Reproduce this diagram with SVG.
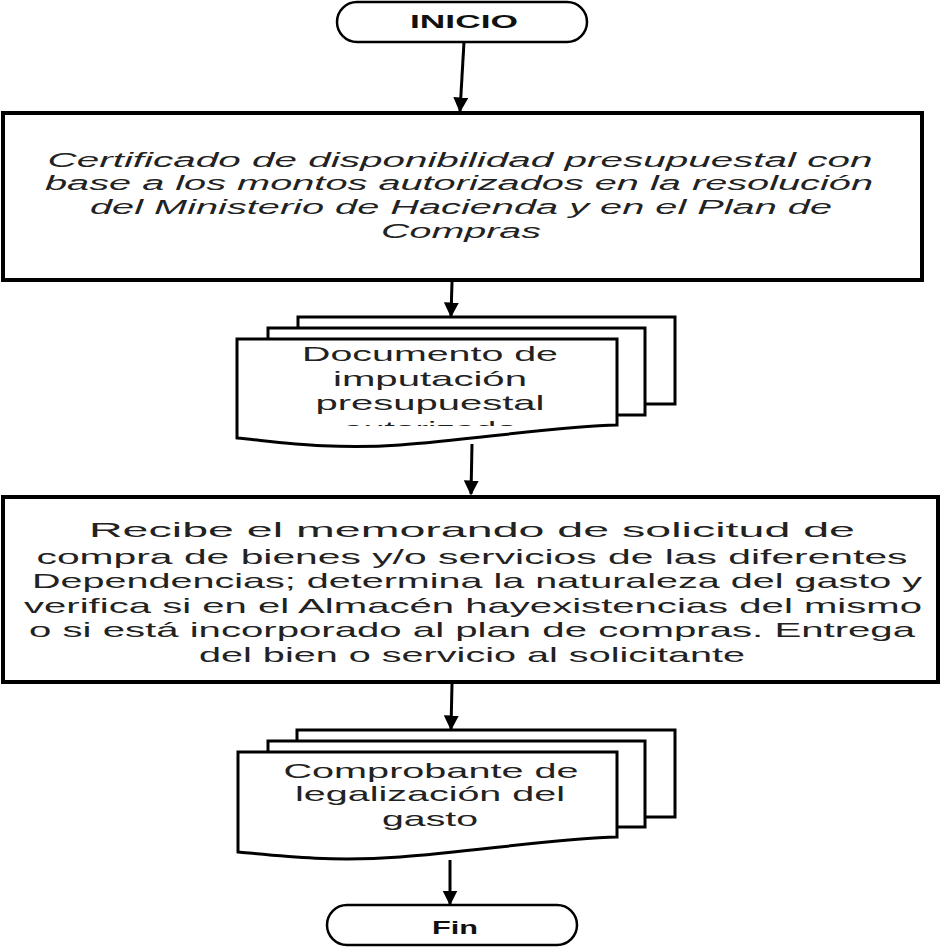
<svg xmlns="http://www.w3.org/2000/svg" width="942" height="948" viewBox="0 0 942 948">
<style>
.term{fill:#fff;stroke:#000;stroke-width:2.5}
.box{fill:#fff;stroke:#000;stroke-width:4}
.sheet{fill:#fff;stroke:#000;stroke-width:3}
.t{font-family:"Liberation Sans",Arial,sans-serif;fill:#222;text-anchor:middle}
.b{font-weight:bold;fill:#111}
.i{font-style:italic}
.conn{stroke:#000;stroke-width:3;fill:none}
</style>
<defs>
<marker id="ah" markerWidth="5" markerHeight="5" refX="4.5" refY="2.5" orient="auto" markerUnits="strokeWidth">
<path d="M0,0 L5,2.5 L0,5 Z" fill="#000"/>
</marker>
<clipPath id="doc1clip"><rect x="237" y="339" width="380" height="87"/></clipPath>
</defs>
<rect width="942" height="948" fill="#fff"/>

<g id="inicio">
<rect class="term" x="337" y="2" width="250" height="40" rx="20"/>
<text class="t b" x="464" y="28" font-size="18" textLength="108" lengthAdjust="spacingAndGlyphs">INICIO</text>
</g>

<g id="certificado">
<rect class="box" x="3" y="113" width="919" height="167"/>
<text class="t i" font-size="20" x="460" y="167" textLength="825" lengthAdjust="spacingAndGlyphs">Certificado  de disponibilidad presupuestal  con</text>
<text class="t i" font-size="20" x="459" y="190" textLength="828" lengthAdjust="spacingAndGlyphs">base a los montos autorizados en la resolución</text>
<text class="t i" font-size="20" x="461" y="214" textLength="742" lengthAdjust="spacingAndGlyphs">del Ministerio de Hacienda  y en el Plan de</text>
<text class="t i" font-size="20" x="461" y="238" textLength="160" lengthAdjust="spacingAndGlyphs">Compras</text>
</g>

<g id="documento-imputacion">
<rect class="sheet" x="298" y="317" width="377" height="87"/>
<rect class="sheet" x="268" y="328" width="377" height="87"/>
<path class="sheet" d="M237,339 L617,339 L617,425 C560,426 470,440 400,445 C330,450 280,442 237,438 Z"/>
<g clip-path="url(#doc1clip)">
<text class="t" font-size="21" x="430" y="361" textLength="256" lengthAdjust="spacingAndGlyphs">Documento de</text>
<text class="t" font-size="21" x="430" y="386" textLength="194" lengthAdjust="spacingAndGlyphs">imputación</text>
<text class="t" font-size="21" x="430" y="410" textLength="229" lengthAdjust="spacingAndGlyphs">presupuestal</text>
<text class="t" font-size="21" x="430" y="436" textLength="174" lengthAdjust="spacingAndGlyphs">autorizado</text>
</g>
</g>

<g id="recibe-memorando">
<rect class="box" x="3" y="497" width="935" height="185"/>
<text class="t" font-size="21" x="472" y="537" textLength="766" lengthAdjust="spacingAndGlyphs">Recibe el memorando de solicitud de</text>
<text class="t" font-size="21" x="472" y="564" textLength="871" lengthAdjust="spacingAndGlyphs">compra de bienes y/o servicios de las diferentes</text>
<text class="t" font-size="21" x="477" y="588" textLength="890" lengthAdjust="spacingAndGlyphs">Dependencias; determina la naturaleza del gasto y</text>
<text class="t" font-size="21" x="473" y="613" textLength="898" lengthAdjust="spacingAndGlyphs">verifica si en el Almacén hayexistencias del mismo</text>
<text class="t" font-size="21" x="472" y="637" textLength="886" lengthAdjust="spacingAndGlyphs">o si está incorporado al plan de compras.  Entrega</text>
<text class="t" font-size="21" x="472" y="662" textLength="546" lengthAdjust="spacingAndGlyphs">del bien o servicio al solicitante</text>
</g>

<g id="comprobante-legalizacion">
<rect class="sheet" x="297" y="730" width="378" height="87"/>
<rect class="sheet" x="268" y="741" width="377" height="86"/>
<path class="sheet" d="M238,752 L617,752 L617,837 C560,838 470,852 400,857 C330,862 280,856 238,852 Z"/>
<text class="t" font-size="21" x="431" y="778" textLength="295" lengthAdjust="spacingAndGlyphs">Comprobante de</text>
<text class="t" font-size="21" x="430" y="801" textLength="270" lengthAdjust="spacingAndGlyphs">legalización del</text>
<text class="t" font-size="21" x="430" y="826" textLength="96" lengthAdjust="spacingAndGlyphs">gasto</text>
</g>

<g id="fin">
<rect class="term" x="327" y="905" width="250" height="40" rx="20"/>
<text class="t b" x="455" y="934" font-size="19" textLength="46" lengthAdjust="spacingAndGlyphs">Fin</text>
</g>

<g id="connectors">
<line class="conn" x1="464" y1="42" x2="460" y2="111" marker-end="url(#ah)"/>
<line class="conn" x1="452" y1="282" x2="451" y2="316" marker-end="url(#ah)"/>
<line class="conn" x1="472" y1="444" x2="471" y2="494" marker-end="url(#ah)"/>
<line class="conn" x1="452" y1="684" x2="451" y2="729" marker-end="url(#ah)"/>
<line class="conn" x1="450" y1="860" x2="450" y2="904" marker-end="url(#ah)"/>
</g>
</svg>
